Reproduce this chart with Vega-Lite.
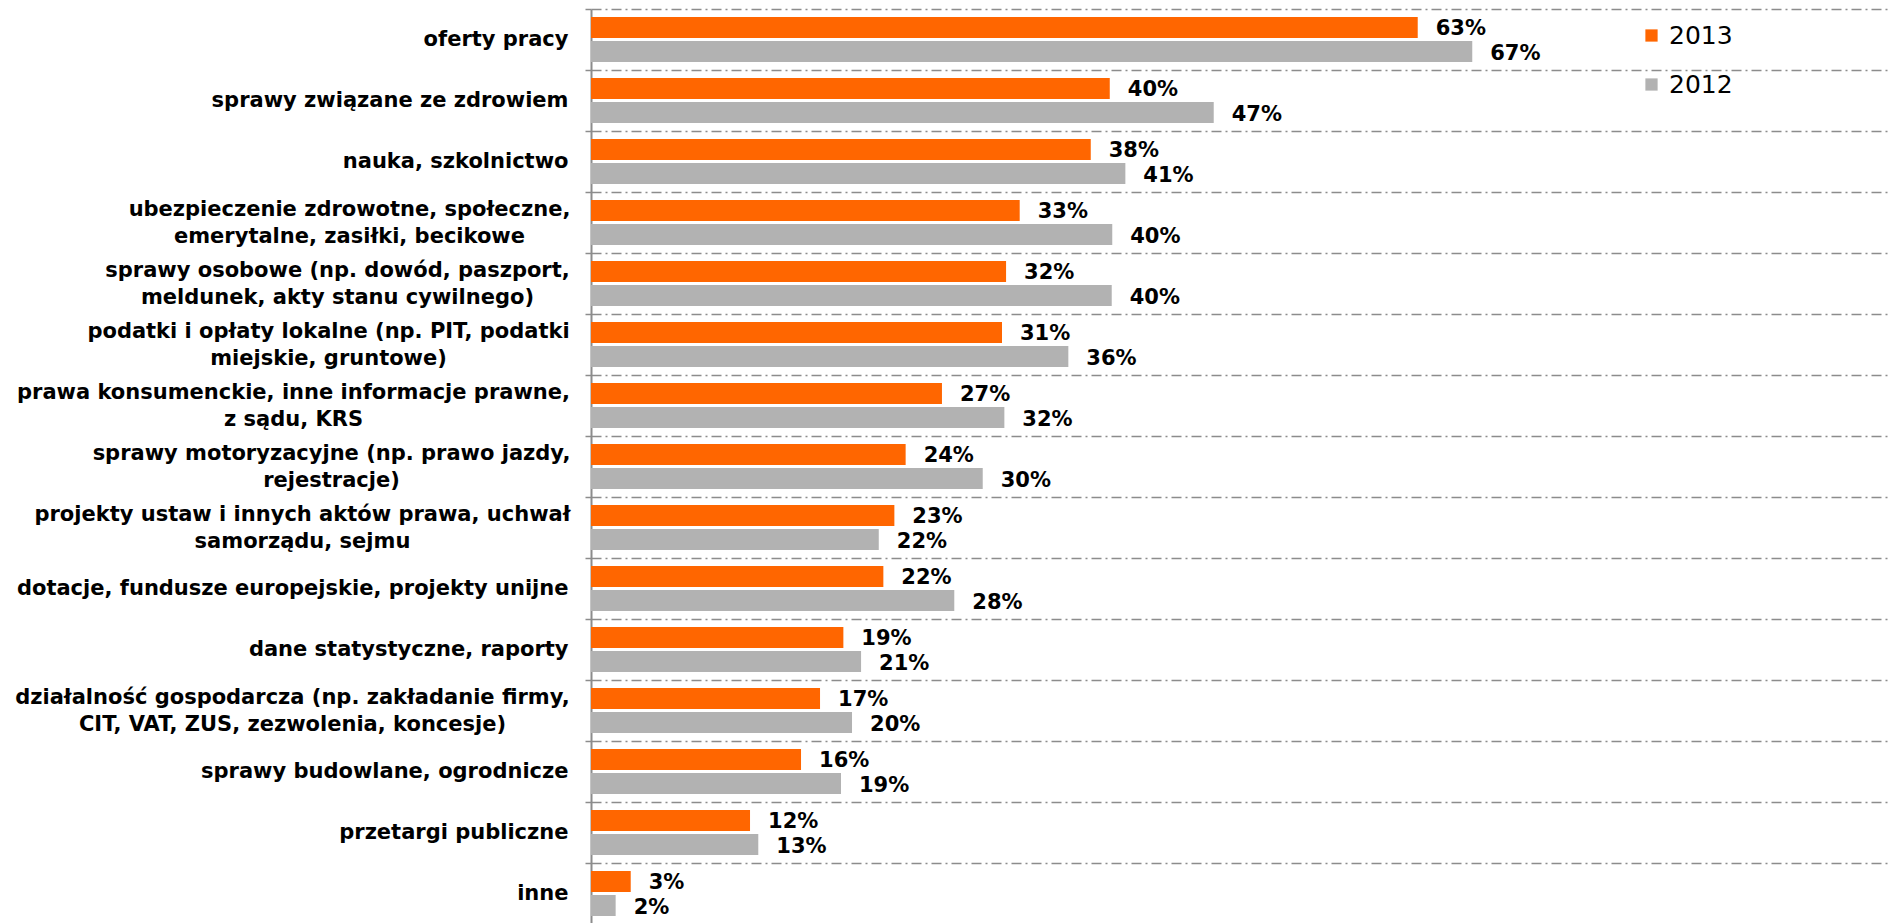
{
  "$schema": "https://vega.github.io/schema/vega-lite/v6.json",
  "autosize": {"type": "none"},
  "padding": {"left": 591, "top": 9, "right": 0, "bottom": 0},
  "width": 1300,
  "height": 915,
  "background": "white",
  "config": {
    "view": {"stroke": null},
    "font": "DejaVu Sans"
  },
  "data": {
    "values": [
      {"cat": "oferty pracy", "year": "2013", "v": 0.6306, "lbl": "63%"},
      {"cat": "oferty pracy", "year": "2012", "v": 0.6722, "lbl": "67%"},
      {"cat": "sprawy związane ze zdrowiem", "year": "2013", "v": 0.3957, "lbl": "40%"},
      {"cat": "sprawy związane ze zdrowiem", "year": "2012", "v": 0.4750, "lbl": "47%"},
      {"cat": "nauka, szkolnictwo", "year": "2013", "v": 0.3812, "lbl": "38%"},
      {"cat": "nauka, szkolnictwo", "year": "2012", "v": 0.4076, "lbl": "41%"},
      {"cat": "ubezpieczenie zdrowotne, społeczne,|emerytalne, zasiłki, becikowe", "year": "2013", "v": 0.3270, "lbl": "33%"},
      {"cat": "ubezpieczenie zdrowotne, społeczne,|emerytalne, zasiłki, becikowe", "year": "2012", "v": 0.3976, "lbl": "40%"},
      {"cat": "sprawy osobowe (np. dowód, paszport,|meldunek, akty stanu cywilnego)", "year": "2013", "v": 0.3166, "lbl": "32%"},
      {"cat": "sprawy osobowe (np. dowód, paszport,|meldunek, akty stanu cywilnego)", "year": "2012", "v": 0.3972, "lbl": "40%"},
      {"cat": "podatki i opłaty lokalne (np. PIT, podatki|miejskie, gruntowe)", "year": "2013", "v": 0.3135, "lbl": "31%"},
      {"cat": "podatki i opłaty lokalne (np. PIT, podatki|miejskie, gruntowe)", "year": "2012", "v": 0.3641, "lbl": "36%"},
      {"cat": "prawa konsumenckie, inne informacje prawne,|z sądu, KRS", "year": "2013", "v": 0.2677, "lbl": "27%"},
      {"cat": "prawa konsumenckie, inne informacje prawne,|z sądu, KRS", "year": "2012", "v": 0.3153, "lbl": "32%"},
      {"cat": "sprawy motoryzacyjne (np. prawo jazdy,|rejestracje)", "year": "2013", "v": 0.2400, "lbl": "24%"},
      {"cat": "sprawy motoryzacyjne (np. prawo jazdy,|rejestracje)", "year": "2012", "v": 0.2988, "lbl": "30%"},
      {"cat": "projekty ustaw i innych aktów prawa, uchwał|samorządu, sejmu", "year": "2013", "v": 0.2314, "lbl": "23%"},
      {"cat": "projekty ustaw i innych aktów prawa, uchwał|samorządu, sejmu", "year": "2012", "v": 0.2195, "lbl": "22%"},
      {"cat": "dotacje, fundusze europejskie, projekty unijne", "year": "2013", "v": 0.2230, "lbl": "22%"},
      {"cat": "dotacje, fundusze europejskie, projekty unijne", "year": "2012", "v": 0.2771, "lbl": "28%"},
      {"cat": "dane statystyczne, raporty", "year": "2013", "v": 0.1925, "lbl": "19%"},
      {"cat": "dane statystyczne, raporty", "year": "2012", "v": 0.2060, "lbl": "21%"},
      {"cat": "działalność gospodarcza (np. zakładanie firmy,|CIT, VAT, ZUS, zezwolenia, koncesje)", "year": "2013", "v": 0.1747, "lbl": "17%"},
      {"cat": "działalność gospodarcza (np. zakładanie firmy,|CIT, VAT, ZUS, zezwolenia, koncesje)", "year": "2012", "v": 0.1991, "lbl": "20%"},
      {"cat": "sprawy budowlane, ogrodnicze", "year": "2013", "v": 0.1602, "lbl": "16%"},
      {"cat": "sprawy budowlane, ogrodnicze", "year": "2012", "v": 0.1907, "lbl": "19%"},
      {"cat": "przetargi publiczne", "year": "2013", "v": 0.1213, "lbl": "12%"},
      {"cat": "przetargi publiczne", "year": "2012", "v": 0.1276, "lbl": "13%"},
      {"cat": "inne", "year": "2013", "v": 0.0303, "lbl": "3%"},
      {"cat": "inne", "year": "2012", "v": 0.0188, "lbl": "2%"}
    ]
  },
  "encoding": {
    "y": {
      "field": "cat",
      "type": "nominal",
      "sort": null,
      "title": null,
      "scale": {"paddingInner": 0, "paddingOuter": 0},
      "axis": {
        "bandPosition": 0,
        "labelExpr": "split(datum.label, '|')",
        "labelFont": "DejaVu Sans",
        "labelFontWeight": "bold",
        "labelFontSize": 21,
        "labelColor": "#000000",
        "labelLineHeight": 27,
        "labelLimit": 0,
        "labelBaseline": "middle",
        "labelAlign": {
          "condition": {"test": "indexof(datum.value, '|') >= 0", "value": "center"},
          "value": "right"
        },
        "labelOffset": {
          "condition": {"test": "indexof(datum.value, '|') >= 0", "value": -13},
          "value": 0
        },
        "labelPadding": {
          "condition": [
            {"test": "indexof(datum.value, 'ubezpieczenie') == 0", "value": 236},
            {"test": "indexof(datum.value, 'sprawy osobowe') == 0", "value": 248},
            {"test": "indexof(datum.value, 'podatki') == 0", "value": 257},
            {"test": "indexof(datum.value, 'prawa konsumenckie') == 0", "value": 292},
            {"test": "indexof(datum.value, 'sprawy motoryzacyjne') == 0", "value": 254},
            {"test": "indexof(datum.value, 'projekty ustaw') == 0", "value": 283},
            {"test": "indexof(datum.value, 'działalność') == 0", "value": 293}
          ],
          "value": 17
        },
        "tickSize": 6,
        "tickColor": "#8c8c8c",
        "tickWidth": 1.5,
        "domainColor": "#8c8c8c",
        "domainWidth": 2,
        "grid": true,
        "gridColor": "#8c8c8c",
        "gridWidth": 1.5,
        "gridDash": [10, 4, 2, 4]
      }
    },
    "yOffset": {
      "field": "year",
      "type": "nominal",
      "sort": ["2013", "2012"],
      "scale": {"paddingInner": 0.125, "paddingOuter": 0.333}
    },
    "x": {
      "field": "v",
      "type": "quantitative",
      "scale": {"domain": [0, 0.9916], "nice": false, "zero": true},
      "axis": null
    }
  },
  "layer": [
    {
      "mark": {"type": "bar"},
      "encoding": {
        "color": {
          "field": "year",
          "type": "nominal",
          "scale": {"domain": ["2013", "2012"], "range": ["#FF6600", "#B2B2B2"]},
          "legend": {
            "title": null,
            "orient": "none",
            "legendX": 1048,
            "legendY": 14,
            "direction": "vertical",
            "symbolType": "square",
            "symbolSize": 150,
            "symbolStrokeWidth": 0,
            "labelFont": "DejaVu Sans",
            "labelFontSize": 25,
            "labelColor": "#000000",
            "labelOffset": 5,
            "rowPadding": 23
          }
        }
      }
    },
    {
      "mark": {"type": "text", "align": "left", "baseline": "middle", "dx": 18, "dy": 2, "font": "DejaVu Sans", "fontWeight": "bold", "fontSize": 21, "color": "#000000"},
      "encoding": {
        "text": {"field": "lbl", "type": "nominal"}
      }
    }
  ]
}
